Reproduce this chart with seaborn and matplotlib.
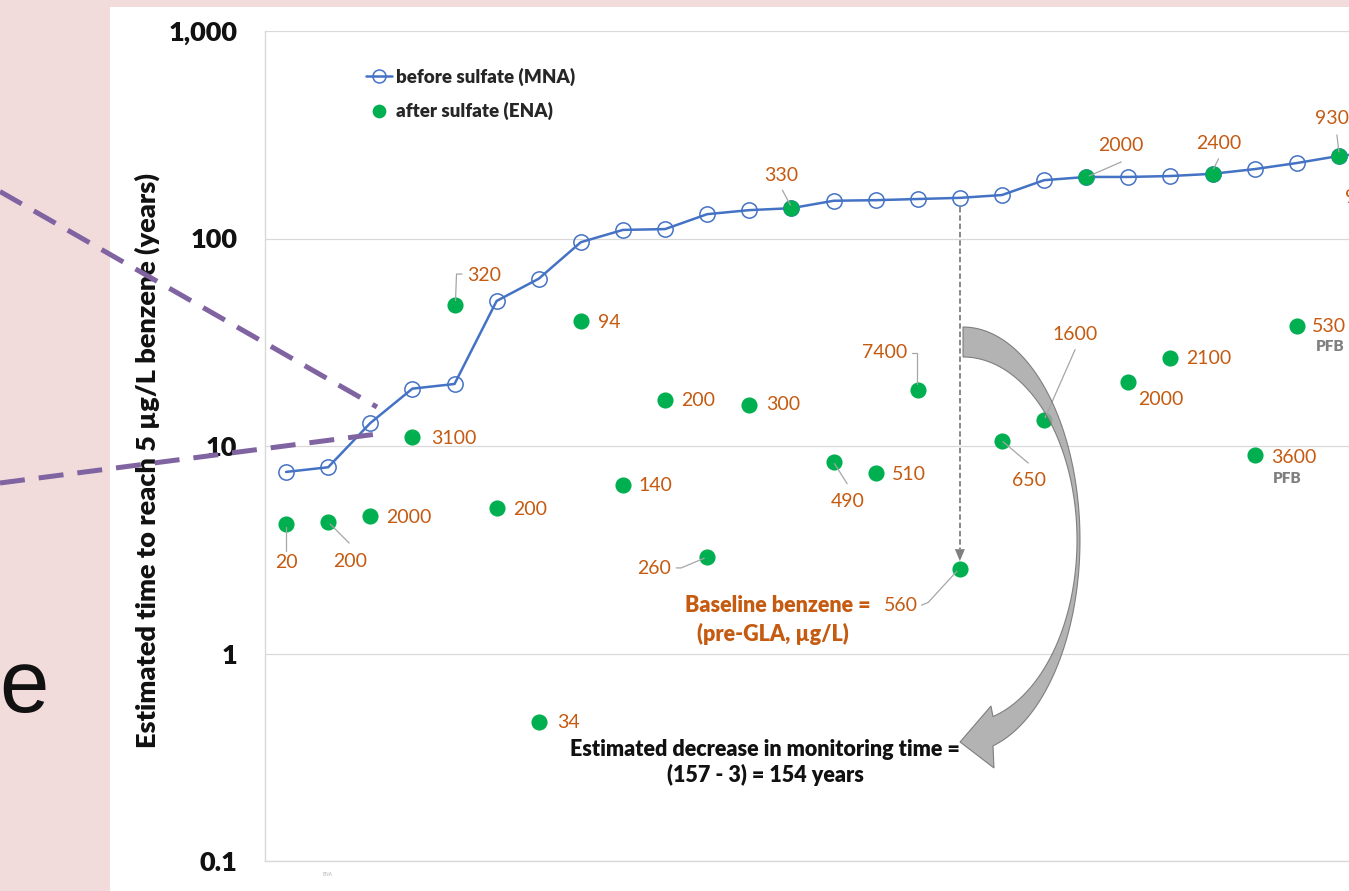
import numpy as np
import pandas as pd
import matplotlib
matplotlib.use("Agg")
import matplotlib.pyplot as plt
import matplotlib.transforms as mtransforms
from matplotlib.patches import Rectangle, Polygon
from matplotlib.lines import Line2D
from matplotlib.font_manager import FontProperties
import seaborn as sns

# ---------------------------------------------------------------- data
# Estimated years to reach 5 ug/L benzene, one entry per monitoring well
mna_years = [7.5, 7.9, 12.9, 18.9, 19.9, 50, 64, 96, 110, 111, 131, 137, 140,
             152, 153, 155, 157, 162, 191, 198, 198, 200, 205, 216, 231, 250, 262]
ena_years = [4.2, 4.3, 4.6, 11.0, 48, 5.0, 0.466, 40, 6.5, 16.7, 2.93, 15.8, 140,
             8.4, 7.4, 18.7, 2.55, 10.6, 13.4, 198, 20.4, 26.6, 205, 9.0, 38, 250]
# Baseline (pre-GLA) benzene concentration, ug/L
baseline_benzene = ["20", "200", "2000", "3100", "320", "200", "34", "94", "140",
                    "200", "260", "300", "330", "490", "510", "7400", "560", "650",
                    "1600", "2000", "2000", "2100", "2400", "3600", "530", "930"]
pfb_wells = [23, 24]
highlight_well = 16
y_ticks = [0.1, 1, 10, 100, 1000]
y_tick_labels = ["0.1", "1", "10", "100", "1,000"]

# ---------------------------------------------------------------- style
BLUE = "#4472c4"
GREEN = "#00b050"
ORANGE = "#c55a11"
GRID = "#d9d9d9"
LEADER = "#a6a6a6"
PINK = "#f2dcdb"
PURPLE = "#8064a2"

sns.set_theme(style="white")
plt.rcParams["font.family"] = ["Lato", "DejaVu Sans"]

W, H = 1349, 891
fig = plt.figure(figsize=(W / 100, H / 100), dpi=100)
fig.patch.set_facecolor(PINK)
fig.add_artist(Rectangle((110 / W, 0), 1 - 110 / W, 1 - 7 / H,
                         transform=fig.transFigure, facecolor="white",
                         edgecolor="none", zorder=0))
ax = fig.add_axes([265 / W, 30 / H, (W - 265) / W, 830 / H])
ax.set_facecolor("white")

# image-pixel transform (origin top-left) for free-floating callouts
img = mtransforms.Affine2D().scale(1, -1).translate(0, H)

df_mna = pd.DataFrame({"well": np.arange(len(mna_years)), "years": mna_years})
df_ena = pd.DataFrame({"well": np.arange(len(ena_years)), "years": ena_years})

sns.lineplot(data=df_mna, x="well", y="years", ax=ax, color=BLUE, lw=1.8,
             marker="o", markersize=11, markerfacecolor="none",
             markeredgecolor=BLUE, markeredgewidth=1.1,
             label="before sulfate (MNA)", zorder=3)
sns.scatterplot(data=df_ena, x="well", y="years", ax=ax, color=GREEN, s=135,
                linewidth=0, label="after sulfate (ENA)", zorder=4)

ax.set_yscale("log")
ax.set_xlabel("")

# axes, ticks, grid
ax.set_yticks(y_ticks)
ax.set_yticklabels(y_tick_labels)
ax.yaxis.set_minor_locator(matplotlib.ticker.LogLocator(base=10, subs=np.arange(2, 10)))
ax.yaxis.set_minor_formatter(matplotlib.ticker.NullFormatter())
ax.tick_params(axis="y", which="major", length=0, pad=20)
ax.tick_params(axis="y", which="minor", direction="in", length=5.5, width=0.8, color=GRID)
for lab in ax.get_yticklabels():
    lab.set_fontweight("heavy")
    lab.set_fontsize(19.5)
    lab.set_color("#111111")
ax.set_xticks(np.arange(-0.5, 26, 1))
ax.set_xticklabels([])
ax.tick_params(axis="x", which="major", direction="out", length=8.6, width=1, color=GRID)
ax.set_ylim(0.1, 1000)
ax.set_xlim(-0.5, 25.24)
ax.yaxis.grid(True, which="major", color=GRID, lw=0.9)
ax.xaxis.grid(False)
for side in ("top", "right"):
    ax.spines[side].set_visible(False)
for side in ("left", "bottom"):
    ax.spines[side].set_color(GRID)
    ax.spines[side].set_linewidth(1.0)

ax.set_ylabel("Estimated time to reach 5 \u00b5g/L benzene (years)",
              fontsize=19.5, fontweight="heavy", color="#111111", va="center")
ax.yaxis.set_label_coords(-(265 - 147) / (W - 265), 0.483)

leg = ax.legend(loc="upper left", bbox_to_anchor=(0.093, 0.956), frameon=False,
                prop=FontProperties(family="Lato", weight="heavy", size=13.5),
                handlelength=1.4, handletextpad=0.2, labelspacing=0.83,
                borderpad=0, borderaxespad=0, markerscale=0.85)

# ---------------------------------------------------------------- data labels
label_pos = [
    (0, 38, "center"), (22, 39, "center"), (16, 2, "left"), (19, 1, "left"),
    (12.7, -29.3, "left"), (16.5, 1.5, "left"), (18, 0, "left"), (17, 1, "left"),
    (16, 1, "left"), (16, 1, "left"), (-36, 12.3, "right"), (16.5, 0, "left"),
    (-10, -33, "center"), (14, 40, "center"), (16, 1, "left"), (-11, -37, "right"),
    (-42.3, 36, "right"), (26.6, 40, "center"), (31, -85, "center"),
    (35, -31, "center"), (10, 18, "left"), (15.3, 0.3, "left"),
    (6, -30.3, "center"), (16.7, 1.7, "left"), (15.3, 1, "left"), (-7, -37, "center"),
]
leaders = {
    0: [(0, 3), (0, 27)],
    1: [(2, 2), (21, 21)],
    4: [(1, -4), (2, -30.6), (7.5, -30.6)],
    10: [(-3, 1.6), (-26, 11.3), (-31, 11.3)],
    12: [(-1, -3), (-9, -18)],
    13: [(1, 2), (13.6, 22)],
    15: [(-6, -37), (-1, -37), (-1, -6)],
    16: [(-38.3, 36), (-31.7, 33.3), (-3, 2)],
    17: [(1, 1), (26.3, 22.3)],
    18: [(1, -2), (31, -70)],
    19: [(3, -1), (35, -15)],
    22: [(1, -5), (6, -15)],
    25: [(0, -4), (-2, -21)],
}


def anchor(i, yval):
    """Display-pixel position of a data point."""
    return ax.transData.transform((i, yval))


for i, (txt, yv) in enumerate(zip(baseline_benzene, ena_years)):
    dx, dy, ha = label_pos[i]
    bx, by = anchor(i, yv)
    fig.text(bx + dx, by - dy, txt, transform=mtransforms.IdentityTransform(),
             ha=ha, va="center", fontsize=14, color=ORANGE, zorder=6)
    if i in leaders:
        pts = np.array(leaders[i], dtype=float)
        fig.add_artist(Line2D(bx + pts[:, 0], by - pts[:, 1], color=LEADER, lw=0.9,
                              transform=mtransforms.IdentityTransform(), zorder=6))

pfb_offsets = {23: (18, 23.3), 24: (19, 21)}
for i in pfb_wells:
    bx, by = anchor(i, ena_years[i])
    dx, dy = pfb_offsets[i]
    fig.text(bx + dx, by - dy, "PFB", transform=mtransforms.IdentityTransform(),
             ha="left", va="center", fontsize=11, fontweight="heavy", color="#808080")

# label of the next well, cut by the right edge
bx, by = anchor(25, ena_years[25])
fig.text(bx + 6, by - 42, "9", transform=mtransforms.IdentityTransform(),
         ha="left", va="center", fontsize=14, color=ORANGE)

# ---------------------------------------------------------------- highlight well
h = highlight_well
top_x, top_y = anchor(h, mna_years[h])
bot_x, bot_y = anchor(h, ena_years[h])
head_len, head_w = 12, 5
fig.add_artist(Line2D([top_x, top_x], [top_y - 9, bot_y + 8 + head_len],
                      color="#7f7f7f", lw=1.3, ls=(0, (3, 1.6)),
                      transform=mtransforms.IdentityTransform(), zorder=5))
fig.add_artist(Polygon([(top_x - head_w, bot_y + 8 + head_len),
                        (top_x + head_w, bot_y + 8 + head_len),
                        (top_x, bot_y + 8)], closed=True, facecolor="#7f7f7f",
                       edgecolor="none", transform=mtransforms.IdentityTransform(),
                       zorder=5))

# curved "decrease" arrow
cx, cy = 963, 540
t_o = np.linspace(0, np.pi - np.arcsin(30 / 117), 90)
t_i = np.linspace(0, np.pi - np.arcsin(30 / 114), 90)
outer = np.c_[cx + 117 * np.sin(t_o), cy - 213 * np.cos(t_o)]
inner = np.c_[cx + 114 * np.sin(t_i), cy - 183 * np.cos(t_i)]
head = np.array([(994, 768), (960, 742), (991, 706)])
shape = np.vstack([outer, head, inner[::-1]])
fig.add_artist(Polygon(shape, closed=True, facecolor="#a6a6a6", alpha=0.85,
                       edgecolor="#707070", lw=0.8, transform=img, zorder=7))

ann_font = dict(fontsize=15.5, fontweight="heavy", transform=img, va="center")
fig.text(871, 606, "Baseline benzene =", color=ORANGE, ha="right", **ann_font)
fig.text(773, 634, "(pre-GLA, \u00b5g/L)", color=ORANGE, ha="center", **ann_font)
fig.text(765, 749, "Estimated decrease in monitoring time =", color="#111111",
         ha="center", **ann_font)
fig.text(765, 775,
         f"({mna_years[h]:.0f} - {ena_years[h]:.0f}) = "
         f"{round(mna_years[h]) - round(ena_years[h])} years",
         color="#111111", ha="center", **ann_font)

fig.text(327, 875, "ENA", transform=img, fontsize=3.5, color="#b0b0b0",
         ha="center", va="center")

# ---------------------------------------------------------------- slide background callout
for (x0, y0), (x1, y1) in [((0, 191.5), (377, 407)), ((0, 483), (377, 434))]:
    fig.add_artist(Line2D([x0, x1], [y0, y1], color=PURPLE, lw=3.6,
                          dashes=(5, 2.8), transform=img, zorder=10,
                          solid_capstyle="butt", dash_capstyle="butt"))
fig.text(49, 712, "e", transform=img, fontsize=64, family="Liberation Sans",
         color="#111111", ha="right", va="baseline")

fig.savefig("out.png", dpi=100, facecolor=fig.get_facecolor())
